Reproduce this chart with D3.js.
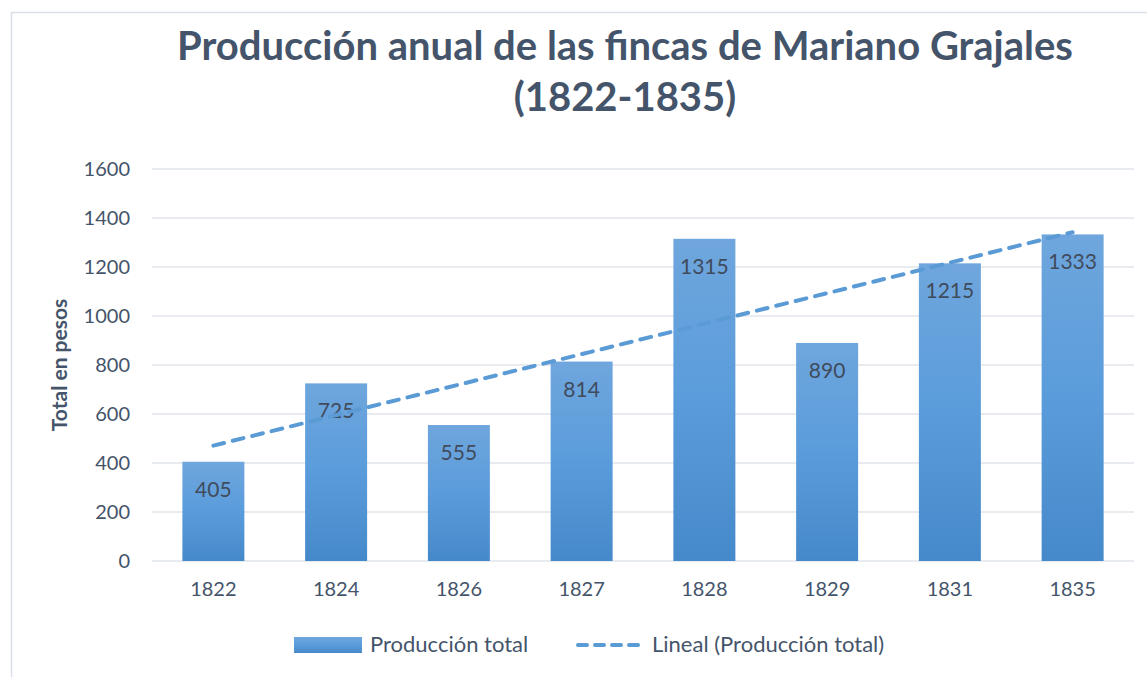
<!DOCTYPE html>
<html>
<head>
<meta charset="utf-8">
<script src="https://cdn.jsdelivr.net/npm/d3@7"></script>
<style>
  body { margin: 0; background: #fff; }
  svg text { font-family: Lato, "Open Sans", sans-serif; }
</style>
</head>
<body>
<svg id="chart" width="1147" height="677"></svg>
<script>
// data
var years = ["1822", "1824", "1826", "1827", "1828", "1829", "1831", "1835"];
var produccion = [405, 725, 555, 814, 1315, 890, 1215, 1333];
var yTicks = [0, 200, 400, 600, 800, 1000, 1200, 1400, 1600];

var textCol = "#44546A";
var width = 1147, height = 677;
var plotLeft = 152, plotRight = 1134, plotTop = 169, plotBottom = 561;

var svg = d3.select("#chart");

// chart area border
svg.append("rect")
  .attr("x", 11.5).attr("y", 12.5)
  .attr("width", width + 20).attr("height", height + 20)
  .attr("fill", "none").attr("stroke", "#D9DEE8").attr("stroke-width", 1.5);

var grad = svg.append("defs").append("linearGradient")
  .attr("id", "barGrad").attr("x1", 0).attr("y1", 0).attr("x2", 0).attr("y2", 1);
grad.append("stop").attr("offset", "0%").attr("stop-color", "#6FA6DD");
grad.append("stop").attr("offset", "50%").attr("stop-color", "#5A9CDB");
grad.append("stop").attr("offset", "100%").attr("stop-color", "#4689CA");

var x = d3.scaleBand().domain(years).range([plotLeft, plotRight]).paddingInner(0.495).paddingOuter(0.2475);
var y = d3.scaleLinear().domain([0, 1600]).range([plotBottom, plotTop]);

// title
svg.append("text")
  .attr("x", 625).attr("y", 60)
  .attr("text-anchor", "middle")
  .attr("font-size", 40).attr("font-weight", "bold").attr("fill", textCol)
  .text("Producción anual de las fincas de Mariano Grajales");
svg.append("text")
  .attr("x", 625).attr("y", 111)
  .attr("text-anchor", "middle")
  .attr("font-size", 40).attr("font-weight", "bold").attr("fill", textCol)
  .text("(1822-1835)");

// gridlines
svg.append("g")
  .selectAll("line").data(yTicks).join("line")
  .attr("x1", plotLeft).attr("x2", plotRight)
  .attr("y1", function(d) { return y(d); }).attr("y2", function(d) { return y(d); })
  .attr("stroke", "#E1E4EA").attr("stroke-width", 1.5);

// y axis
var yAxis = svg.append("g")
  .attr("transform", "translate(" + (plotLeft - 22) + ",0)")
  .call(d3.axisLeft(y).tickValues(yTicks).tickFormat(d3.format("d")).tickSize(0).tickPadding(0));
yAxis.select(".domain").remove();
yAxis.selectAll("text")
  .attr("font-size", 20).attr("fill", textCol)
  .attr("font-family", "Lato, 'Open Sans', sans-serif");

// x axis
var xAxis = svg.append("g")
  .attr("transform", "translate(0," + (plotBottom + 21) + ")")
  .call(d3.axisBottom(x).tickSize(0).tickPadding(0));
xAxis.select(".domain").remove();
xAxis.selectAll("text")
  .attr("font-size", 20).attr("fill", textCol)
  .attr("font-family", "Lato, 'Open Sans', sans-serif");

// y axis title
svg.append("text")
  .attr("transform", "translate(67,365) rotate(-90)")
  .attr("text-anchor", "middle")
  .attr("font-size", 21).attr("font-weight", "bold").attr("fill", textCol)
  .text("Total en pesos");

// bars
svg.append("g")
  .selectAll("rect").data(produccion).join("rect")
  .attr("x", function(d, i) { return x(years[i]); })
  .attr("y", function(d) { return y(d); })
  .attr("width", x.bandwidth())
  .attr("height", function(d) { return y(0) - y(d); })
  .attr("fill", "url(#barGrad)");

// data labels
svg.append("g")
  .selectAll("text").data(produccion).join("text")
  .attr("x", function(d, i) { return x(years[i]) + x.bandwidth() / 2; })
  .attr("y", function(d) { return y(d) + 35; })
  .attr("text-anchor", "middle")
  .attr("font-size", 21).attr("fill", "#404B5C")
  .text(function(d) { return d; });

// linear trend line (least squares over category index)
var n = produccion.length;
var mx = d3.mean(produccion, function(d, i) { return i; });
var my = d3.mean(produccion);
var sxy = d3.sum(produccion, function(d, i) { return (i - mx) * (d - my); });
var sxx = d3.sum(produccion, function(d, i) { return (i - mx) * (i - mx); });
var slope = sxy / sxx, intercept = my - slope * mx;
var trend = [0, n - 1].map(function(i) { return { i: i, v: intercept + slope * i }; });

svg.append("path")
  .datum(trend)
  .attr("d", d3.line()
    .x(function(d) { return x(years[d.i]) + x.bandwidth() / 2; })
    .y(function(d) { return y(d.v); }))
  .attr("fill", "none").attr("stroke", "#5B9BD5").attr("stroke-width", 4)
  .attr("stroke-dasharray", "11,9").attr("stroke-linecap", "round");

// legend
var lg = svg.append("g");
lg.append("rect")
  .attr("x", 294).attr("y", 637).attr("width", 68).attr("height", 16)
  .attr("fill", "url(#barGrad)");
lg.append("text")
  .attr("x", 370).attr("y", 652)
  .attr("font-size", 22).attr("fill", textCol)
  .text("Producción total");
lg.append("line")
  .attr("x1", 578).attr("x2", 644).attr("y1", 645).attr("y2", 645)
  .attr("stroke", "#5B9BD5").attr("stroke-width", 4)
  .attr("stroke-dasharray", "9,8").attr("stroke-linecap", "round");
lg.append("text")
  .attr("x", 652).attr("y", 652)
  .attr("font-size", 22).attr("fill", textCol)
  .text("Lineal (Producción total)");
</script>
</body>
</html>
